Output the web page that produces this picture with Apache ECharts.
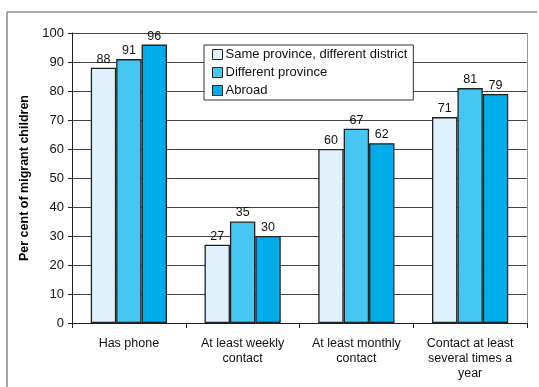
<!DOCTYPE html>
<html>
<head>
<meta charset="utf-8">
<script src="https://cdn.jsdelivr.net/npm/echarts@6/dist/echarts.min.js"></script>
<style>
  html, body { margin: 0; padding: 0; background: #fff; overflow: hidden; }
  #chart { width: 539px; height: 387px; }
</style>
</head>
<body>
<div id="chart"></div>
<script>
const categories = [
  'Has phone',
  'At least weekly\ncontact',
  'At least monthly\ncontact',
  'Contact at least\nseveral times a\nyear'
];
const seriesNames = ['Same province, different district', 'Different province', 'Abroad'];
const sameProvince = [88, 27, 60, 71];
const differentProvince = [91, 35, 67, 81];
const abroad = [96, 30, 62, 79];
const yTicks = { min: 0, max: 100, interval: 10 };

const colors = ['#DFF1FB', '#45C7F4', '#00ADEB'];
const values = [sameProvince, differentProvince, abroad];
const font = 'Liberation Sans, Arial, sans-serif';

const W = 539, H = 387;
const grid = { left: 72, right: 12, top: 33, bottom: 64 };
const frameStroke = { stroke: '#8a8a8a', lineWidth: 1.5 };

const chart = echarts.init(document.getElementById('chart'), null, { renderer: 'canvas' });

chart.setOption({
  animation: false,
  backgroundColor: '#fff',
  textStyle: { fontFamily: font },
  graphic: [{
    // outer frame: top edge
    type: 'line',
    shape: { x1: 7, y1: 12, x2: W - 2, y2: 12 },
    style: frameStroke,
    silent: true
  }, {
    // outer frame: left edge
    type: 'line',
    shape: { x1: 7, y1: 12, x2: 7, y2: H + 5 },
    style: frameStroke,
    silent: true
  }, {
    // right border of the plot area
    type: 'line',
    shape: { x1: W - grid.right + 0.5, y1: grid.top, x2: W - grid.right + 0.5, y2: H - grid.bottom + 5 },
    style: { stroke: '#999', lineWidth: 1 },
    silent: true
  }],
  grid: grid,
  legend: {
    data: seriesNames,
    orient: 'vertical',
    icon: 'rect',
    left: 204,
    top: 45,
    itemWidth: 10,
    itemHeight: 10,
    itemGap: 3,
    padding: [2, 6, 2, 8],
    backgroundColor: '#fff',
    borderColor: '#333',
    borderWidth: 1,
    borderRadius: 0,
    itemStyle: { borderColor: '#222', borderWidth: 1 },
    textStyle: { fontSize: 13, lineHeight: 15, color: '#111', fontFamily: font, padding: [0, 0, 0, -2] }
  },
  xAxis: {
    type: 'category',
    data: categories,
    axisLine: { lineStyle: { color: '#222', width: 1 } },
    axisTick: { show: true, alignWithLabel: false, length: 5, lineStyle: { color: '#222' } },
    axisLabel: { color: '#111', fontSize: 12.5, lineHeight: 15, margin: 13, fontFamily: font, interval: 0 },
    splitLine: { show: false }
  },
  yAxis: {
    type: 'value',
    min: yTicks.min,
    max: yTicks.max,
    interval: yTicks.interval,
    name: 'Per cent of migrant children',
    nameLocation: 'middle',
    nameGap: 37,
    nameTextStyle: { fontSize: 12.5, fontWeight: 'bold', color: '#000', fontFamily: font },
    axisLine: { show: true, lineStyle: { color: '#222', width: 1 } },
    axisTick: { show: true, length: 4, lineStyle: { color: '#222' } },
    axisLabel: { color: '#111', fontSize: 13, margin: 8, fontFamily: font },
    splitLine: { show: true, lineStyle: { color: '#444', width: 1 } }
  },
  series: values.map((vals, i) => ({
    name: seriesNames[i],
    type: 'bar',
    data: vals,
    barGap: '0%',
    barCategoryGap: '33%',
    itemStyle: { color: colors[i], borderColor: '#222', borderWidth: 1.3 },
    label: {
      show: true,
      position: 'top',
      distance: 2,
      color: '#111',
      fontSize: 12.5,
      fontFamily: font
    }
  }))
});
</script>
</body>
</html>
